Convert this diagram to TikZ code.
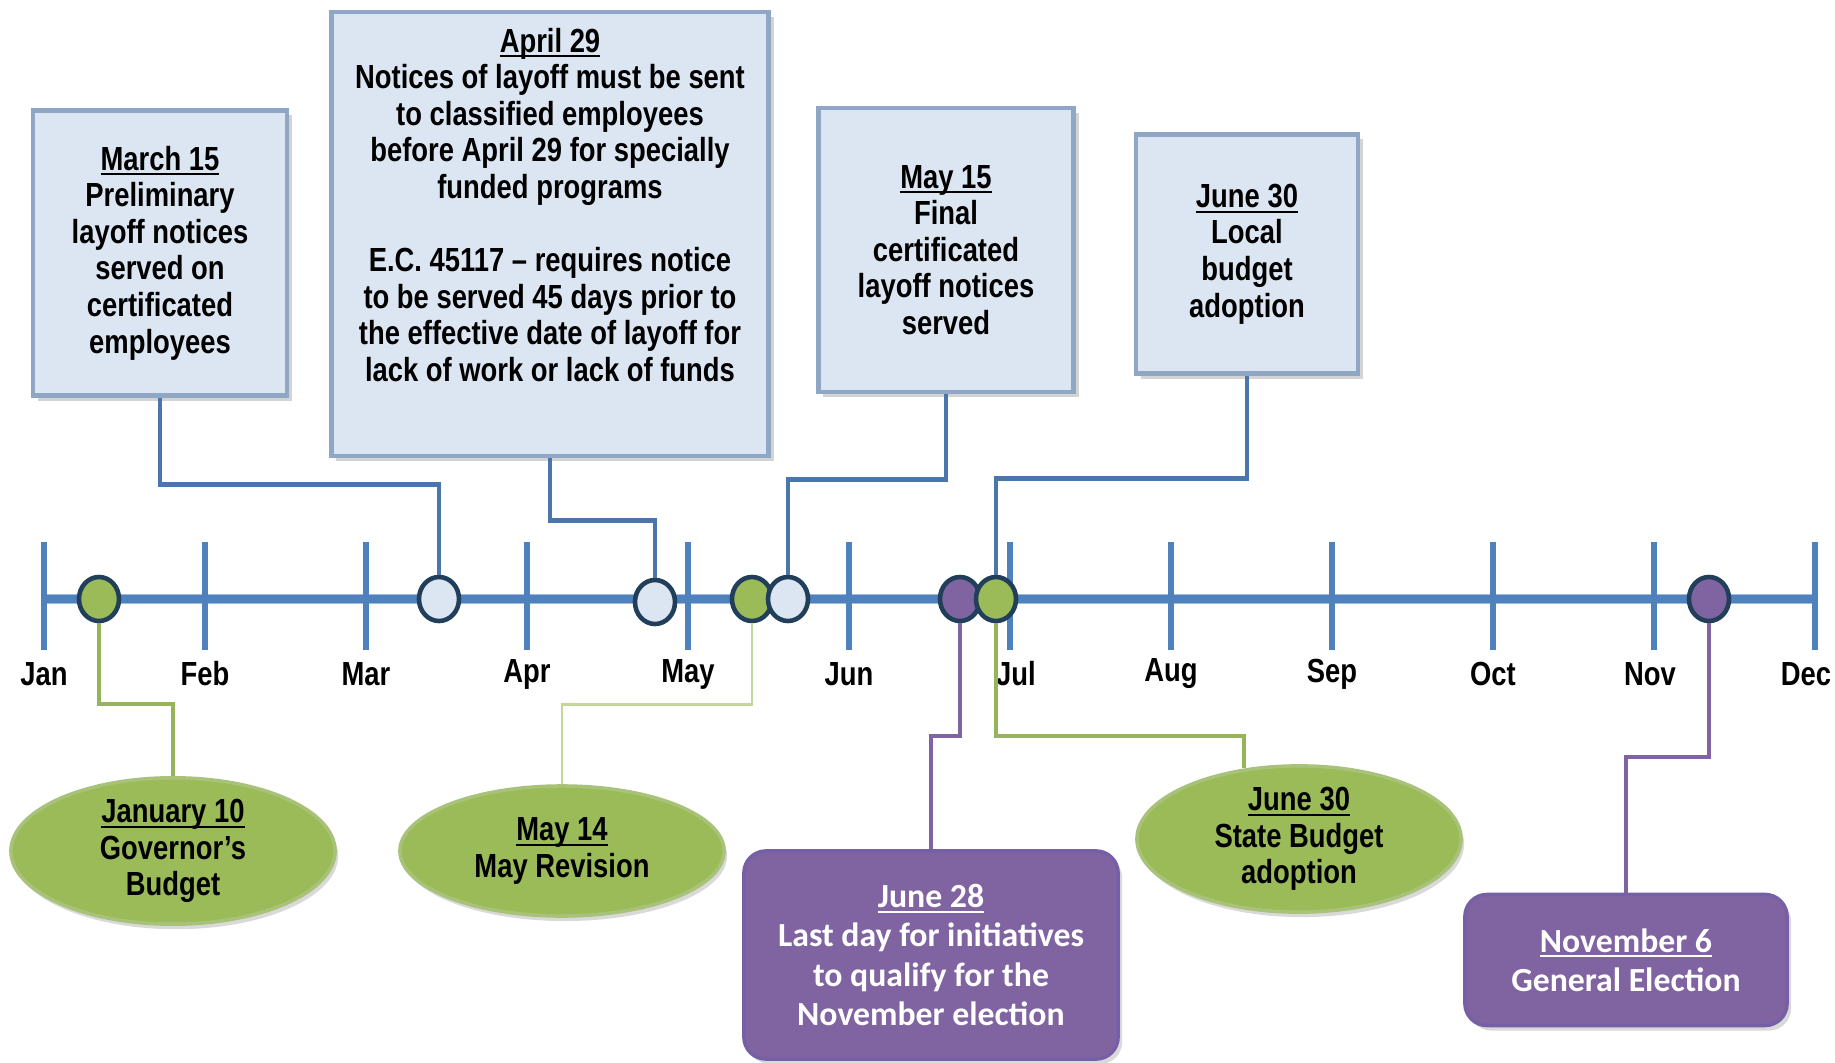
\documentclass[tikz,border=0pt]{standalone}
\usepackage{fontspec}
\setmainfont{Liberation Sans}
\newfontfamily\narrowfont{Liberation Sans}[FakeStretch=0.82]
\newfontfamily\calfont{Carlito}
\usetikzlibrary{positioning,shapes.geometric,shadows,calc}

\definecolor{axisblue}{HTML}{4F81BD}
\definecolor{axislight}{HTML}{9DBBE0}
\definecolor{boxfill}{HTML}{DCE6F2}
\definecolor{boxedge}{HTML}{8FA6C4}
\definecolor{linkblue}{HTML}{4A76AC}
\definecolor{dotedge}{HTML}{213E5A}
\definecolor{budgetgreen}{HTML}{9BBB59}
\definecolor{greenedge}{HTML}{A9C27A}
\definecolor{linkgreen}{HTML}{98B45A}
\definecolor{palegreen}{HTML}{C4D79B}
\definecolor{electpurple}{HTML}{8064A2}
\definecolor{purpleedge}{HTML}{7560A6}

% underlined date, rule kept close to the baseline
\newcommand{\dateul}[1]{\setbox0=\hbox{#1}\rlap{\rule[-1.5pt]{\wd0}{0.6pt}}\box0}

\tikzset{
  notebox/.style={draw=boxedge,fill=boxfill,line width=1.3pt,align=center,inner sep=2pt,
    font=\narrowfont\bfseries\fontsize{9.5}{10.4}\selectfont,
    drop shadow={shadow xshift=0.05cm,shadow yshift=-0.05cm,opacity=0.35}},
  budgetell/.style={ellipse,draw=greenedge,fill=budgetgreen,line width=1pt,align=center,inner sep=0pt,
    minimum width=3.24cm,minimum height=1.3cm,font=\narrowfont\bfseries\fontsize{9.5}{10.4}\selectfont,
    drop shadow={shadow xshift=0.03cm,shadow yshift=-0.05cm,opacity=0.3}},
  electbox/.style={rounded corners=0.22cm,draw=purpleedge,fill=electpurple,line width=1pt,text=white,
    align=center,font=\calfont\bfseries\fontsize{9.6}{11.2}\selectfont,
    drop shadow={shadow xshift=0.04cm,shadow yshift=-0.05cm,opacity=0.3}},
  lightdot/.style={ellipse,draw=dotedge,line width=1.3pt,fill=boxfill,inner sep=0pt,
    minimum width=0.4cm,minimum height=0.44cm},
  greendot/.style={lightdot,fill=budgetgreen},
  purpledot/.style={lightdot,fill=electpurple},
  bluelink/.style={linkblue,line width=1.4pt},
  greenlink/.style={linkgreen,line width=1.1pt},
  palelink/.style={palegreen,line width=0.8pt},
  purplelink/.style={electpurple,line width=1.1pt},
  monthtick/.style={axisblue,line width=1.7pt},
  monthlbl/.style={font=\narrowfont\bfseries\fontsize{9.5}{11}\selectfont}
}

\begin{document}
\begin{tikzpicture}[x=0.01cm,y=-0.01cm]
  \useasboundingbox (0,0) rectangle (1835,1063);

  % time axis
  \draw[axislight,line width=3pt] (44,599) -- (1815,599);
  \draw[axisblue,line width=2pt] (44,599) -- (1815,599);
  \foreach \m/\dx [count=\i from 0] in {Jan/0,Feb/0,Mar/0,Apr/0,May/0,Jun/0,Jul/6,Aug/0,Sep/0,Oct/0,Nov/-4,Dec/-9} {
    \draw[monthtick] (44+161*\i,542) -- (44+161*\i,650);
    \node[monthlbl] (m-\i) at (44+161*\i+\dx,674) {\m};
  }

  % dates on the axis
  \node[greendot] (djan10) at (99,599) {};
  \node[lightdot] (dmar15) at (439,599) {};
  \node[lightdot] (dapr29) at (655,602) {};
  \node[greendot] (dmay14) at (752,599) {};
  \node[lightdot] (dmay15) at (788,599) {};
  \node[purpledot] (djun28) at (960,599) {};
  \node[greendot] (djun30) at (996,599) {};
  \node[purpledot] (dnov6) at (1709,599) {};

  % layoff notices above
  \node[notebox,minimum width=2.54cm,minimum height=2.85cm] (mar15) at (160,253)
    {\dateul{March 15}\\Preliminary\\layoff notices\\served on\\certificated\\employees};
  \node[notebox,minimum width=4.37cm,minimum height=4.44cm] (apr29) at (550,234)
    {\dateul{April 29}\\Notices of layoff must be sent\\to classified employees\\before April 29 for specially\\funded programs\\[10.4pt]
     E.C. 45117 – requires notice\\to be served 45 days prior to\\the effective date of layoff for\\lack of work or lack of funds\\[6.4pt]\mbox{}};
  \node[notebox,minimum width=2.55cm,minimum height=2.84cm] (may15) at (946,250)
    {\dateul{May 15}\\Final\\certificated\\layoff notices\\served};
  \node[notebox,minimum width=2.22cm,minimum height=2.39cm] (jun30loc) at (1247,254)
    {\dateul{June 30}\\Local\\budget\\adoption};

  % state budget and elections below
  \node[budgetell] (jan10) at (173,851) {\dateul{January 10}\\Governor’s\\Budget};
  \node[budgetell] (may14) at (562,851) {\dateul{May 14}\\May Revision};
  \node[budgetell,minimum height=1.34cm] (jun30st) at (1299,839) {\dateul{June 30}\\State Budget\\adoption};
  \node[electbox,minimum width=3.74cm,minimum height=2.08cm] (jun28) at (931,955)
    {\dateul{June 28}\\Last day for initiatives\\to qualify for the\\November election};
  \node[electbox,minimum width=3.22cm,minimum height=1.31cm] (nov6) at (1626,960)
    {\dateul{November 6}\\General Election};

  % connectors
  \draw[bluelink] (mar15.south) -- ++(0,87) -| (dmar15.north);
  \draw[bluelink] (apr29.south) -- ++(0,62) -| (dapr29.north);
  \draw[bluelink] (may15.south) -- ++(0,85) -| (dmay15.north);
  \draw[bluelink] (jun30loc.south) -- ++(0,103) -| (djun30.north);
  \draw[greenlink] (djan10.south) -- ++(0,81) -| (jan10.north);
  \draw[palelink] (dmay14.south) -- ++(0,81) -| (may14.north);
  \draw[purplelink] (djun28.south) -- ++(0,113) -| (jun28.north);
  \draw[greenlink] (djun30.south) -- ++(0,113) -| (jun30st.128);
  \draw[purplelink] (dnov6.south) -- ++(0,134) -| (nov6.north);
\end{tikzpicture}
\end{document}
